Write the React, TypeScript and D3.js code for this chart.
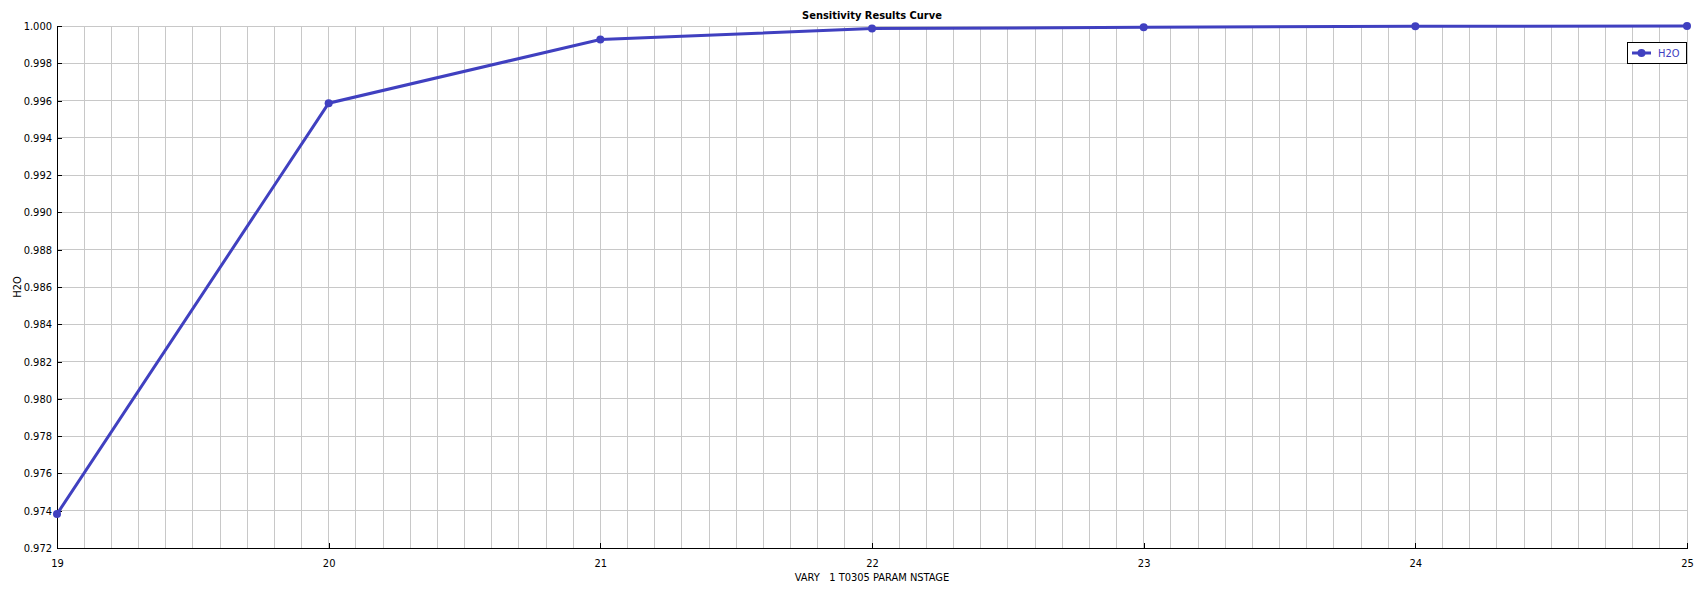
import React, { useRef, useEffect } from "react";
import * as d3 from "d3";

// sensitivity run: stage count vs H2O
const stages = [19, 20, 21, 22, 23, 24, 25];
const h2o = [0.97382, 0.99586, 0.99928, 0.99986, 0.99993, 0.99998, 1.0];
const yTicks = [0.972, 0.974, 0.976, 0.978, 0.98, 0.982, 0.984, 0.986, 0.988, 0.99, 0.992, 0.994, 0.996, 0.998, 1.0];
const seriesName = "H2O";

const App = () => {
  const ref = useRef<SVGSVGElement | null>(null);

  const width = 1696;
  const height = 591;
  const margin = { top: 26, right: 9, bottom: 43, left: 57 };
  const font = "'DejaVu Sans Condensed', 'Liberation Sans', sans-serif";
  const fs = 11;
  const lineColor = "#4040c0";

  useEffect(() => {
    const svg = d3.select(ref.current);
    svg.selectAll("*").remove();

    const x = d3.scaleLinear().domain([19, 25]).range([margin.left, width - margin.right]);
    const y = d3.scaleLinear().domain([0.972, 1.0]).range([height - margin.bottom, margin.top]);

    // grid
    const minor = d3.range(190, 251).map((d) => d / 10);
    svg.append("g")
      .selectAll("line")
      .data(minor.slice(1))
      .enter()
      .append("line")
      .attr("x1", (d) => x(d))
      .attr("x2", (d) => x(d))
      .attr("y1", margin.top)
      .attr("y2", height - margin.bottom)
      .attr("stroke", "#c8c8c8")
      .attr("stroke-width", 1)
      .attr("shape-rendering", "crispEdges");

    svg.append("g")
      .selectAll("line")
      .data(yTicks.slice(1))
      .enter()
      .append("line")
      .attr("x1", margin.left)
      .attr("x2", width - margin.right)
      .attr("y1", (d) => y(d))
      .attr("y2", (d) => y(d))
      .attr("stroke", "#c8c8c8")
      .attr("stroke-width", 1)
      .attr("shape-rendering", "crispEdges");

    // axes
    const xAxis = d3.axisBottom(x).tickValues(stages).tickSize(-5).tickPadding(11).tickFormat(d3.format("d"));
    const gx = svg.append("g").attr("transform", `translate(0,${height - margin.bottom})`).call(xAxis);
    gx.select(".domain").attr("stroke", "#000").attr("shape-rendering", "crispEdges");
    gx.selectAll(".tick line").attr("stroke", "#000").attr("shape-rendering", "crispEdges");
    gx.selectAll("text").attr("font-family", font).attr("font-size", fs).attr("fill", "#000");

    const yAxis = d3.axisLeft(y).tickValues(yTicks).tickSize(-5).tickPadding(5).tickFormat(d3.format(".3f"));
    const gy = svg.append("g").attr("transform", `translate(${margin.left},0)`).call(yAxis);
    gy.select(".domain").attr("stroke", "#000").attr("shape-rendering", "crispEdges");
    gy.selectAll(".tick line").attr("stroke", "#000").attr("shape-rendering", "crispEdges");
    gy.selectAll("text").attr("font-family", font).attr("font-size", fs).attr("fill", "#000");

    // line + markers
    const pts = stages.map((s, i) => [s, h2o[i]] as [number, number]);
    const line = d3.line<[number, number]>().x((d) => x(d[0])).y((d) => y(d[1]));
    svg.append("path")
      .datum(pts)
      .attr("d", line)
      .attr("fill", "none")
      .attr("stroke", lineColor)
      .attr("stroke-width", 3);
    svg.selectAll("circle.pt")
      .data(pts)
      .enter()
      .append("circle")
      .attr("class", "pt")
      .attr("cx", (d) => x(d[0]))
      .attr("cy", (d) => y(d[1]))
      .attr("r", 4)
      .attr("fill", lineColor);

    // title & labels
    const cx = (margin.left + width - margin.right) / 2;
    svg.append("text")
      .attr("x", cx)
      .attr("y", 19)
      .attr("text-anchor", "middle")
      .attr("font-family", font)
      .attr("font-weight", "bold")
      .attr("font-size", fs)
      .text("Sensitivity Results Curve");
    svg.append("text")
      .attr("x", cx)
      .attr("y", 581)
      .attr("text-anchor", "middle")
      .attr("font-family", font)
      .attr("font-size", fs)
      .text("VARY\u00a0\u00a0\u00a01 T0305 PARAM NSTAGE");
    svg.append("text")
      .attr("transform", `translate(21,${(margin.top + height - margin.bottom) / 2}) rotate(-90)`)
      .attr("text-anchor", "middle")
      .attr("font-family", font)
      .attr("font-size", fs)
      .text(seriesName);

    // legend
    const lg = svg.append("g").attr("transform", "translate(1627,42)");
    lg.append("rect").attr("width", 59).attr("height", 21).attr("fill", "#fff").attr("stroke", "#000").attr("stroke-width", 1).attr("shape-rendering", "crispEdges");
    lg.append("line").attr("x1", 5).attr("x2", 24).attr("y1", 11).attr("y2", 11).attr("stroke", lineColor).attr("stroke-width", 3);
    lg.append("circle").attr("cx", 14.5).attr("cy", 11).attr("r", 4).attr("fill", lineColor);
    lg.append("text").attr("x", 31).attr("y", 15).attr("font-family", font).attr("font-size", fs).attr("fill", lineColor).text(seriesName);
  }, []);

  return (
    <svg ref={ref} width={width} height={height} style={{ position: "absolute", left: 0, top: 0, background: "#fff" }} />
  );
};

export default App;
